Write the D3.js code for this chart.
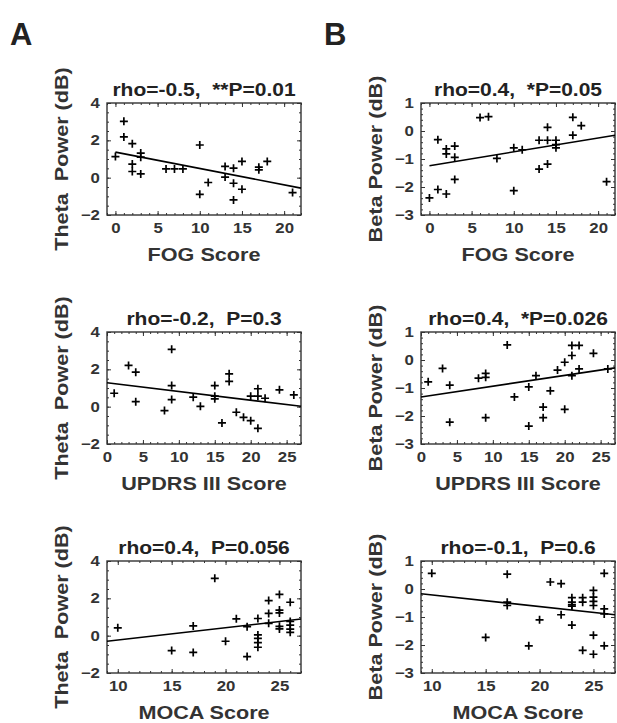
<!DOCTYPE html>
<html>
<head>
<meta charset="utf-8">
<script src="https://cdn.jsdelivr.net/npm/d3@7/dist/d3.min.js"></script>
<style>
  body { margin: 0; background: #fff; }
  svg text { font-family: "Liberation Sans", Arial, sans-serif; font-weight: bold; fill: #333; }
</style>
</head>
<body>
<svg id="chart" width="617" height="723"></svg>
<script>
// ---- data ----
// A: theta power, B: beta power; rows: FOG, UPDRS III, MOCA
const fogThetaX = [0, 1, 1, 2, 3, 3, 2, 2, 3, 6, 7, 8, 10, 10, 11, 13, 13, 14, 14, 14, 15, 15, 17, 17, 18, 21];
const fogThetaY = [1.13, 3.02, 2.18, 1.82, 1.32, 1.1, 0.73, 0.33, 0.2, 0.47, 0.47, 0.47, 1.75, -0.89, -0.26, 0.6, 0.03, 0.51, -0.3, -1.19, 0.87, -0.62, 0.56, 0.42, 0.87, -0.8];
const fogThetaFit = [[0, 1.37], [22, -0.56]];

const fogBetaX = [0, 1, 1, 2, 2, 2, 3, 3, 3, 6, 7, 8, 10, 10, 11, 13, 13, 14, 14, 14, 15, 15, 15, 17, 17, 18, 21];
const fogBetaY = [-2.39, -0.31, -2.09, -0.64, -0.82, -2.25, -0.54, -0.94, -1.73, 0.48, 0.51, -0.98, -0.6, -2.13, -0.67, -0.33, -1.36, 0.13, -0.33, -1.18, -0.33, -0.49, -0.6, 0.49, -0.15, 0.19, -1.81];
const fogBetaFit = [[0, -1.24], [22, -0.15]];

const updrsThetaX = [1, 3, 4, 4, 8, 9, 9, 9, 12, 13, 15, 15, 15, 16, 17, 17, 18, 19, 20, 20, 21, 21, 21, 22, 24, 26];
const updrsThetaY = [0.72, 2.21, 1.85, 0.27, -0.21, 3.07, 1.13, 0.38, 0.51, 0.02, 1.13, 0.56, 0.42, -0.87, 1.76, 1.35, -0.3, -0.57, -0.75, 0.56, 0.96, 0.56, -1.16, 0.45, 0.9, 0.63];
const updrsThetaFit = [[0, 1.28], [27, 0.02]];

const updrsBetaX = [1, 3, 4, 4, 8, 9, 9, 9, 12, 13, 15, 15, 16, 17, 17, 18, 19, 20, 20, 21, 21, 21, 22, 22, 24, 26];
const updrsBetaY = [-0.78, -0.3, -0.9, -2.22, -0.65, -0.48, -0.62, -2.06, 0.54, -1.32, -0.96, -2.36, -0.56, -1.68, -2.06, -1.1, -0.36, -0.08, -1.76, 0.52, 0.16, -0.56, 0.52, -0.32, 0.24, -0.32];
const updrsBetaFit = [[0, -1.32], [27, -0.28]];

const mocaThetaX = [10, 15, 17, 17, 19, 20, 21, 22, 22, 23, 23, 23, 23, 23, 24, 24, 24, 25, 25, 25, 25, 25, 26, 26, 26, 26, 26];
const mocaThetaY = [0.42, -0.8, 0.52, -0.9, 3.07, -0.3, 0.9, 0.48, -1.12, 0.92, 0.04, -0.15, -0.37, -0.62, 1.88, 1.19, 0.66, 2.21, 1.37, 1.22, 0.5, 0.36, 1.79, 0.76, 0.56, 0.35, 0.18];
const mocaThetaFit = [[9, -0.3], [27, 0.89]];

const mocaBetaX = [10, 15, 17, 17, 17, 19, 20, 21, 22, 22, 23, 23, 23, 23, 23, 24, 24, 24, 25, 25, 25, 25, 25, 25, 26, 26, 26, 26];
const mocaBetaY = [0.56, -1.73, 0.53, -0.47, -0.59, -2.03, -1.1, 0.25, 0.19, -0.92, -0.31, -0.47, -0.56, -0.61, -1.29, -0.31, -0.47, -2.19, -0.05, -0.29, -0.44, -0.59, -1.65, -2.33, 0.56, -0.71, -0.89, -2.03];
const mocaBetaFit = [[9, -0.17], [27, -0.92]];

const titles = ['rho=-0.5,  **P=0.01', 'rho=0.4,  *P=0.05',
                'rho=-0.2,  P=0.3', 'rho=0.4,  *P=0.026',
                'rho=0.4,  P=0.056', 'rho=-0.1,  P=0.6'];
const xLabels = ['FOG Score', 'UPDRS III Score', 'MOCA Score'];
const yLabels = ['Theta  Power (dB)', 'Beta Power (dB)'];
const xDomains = [[-1, 22], [0, 27], [9, 27]];
const xTickValues = [[0, 5, 10, 15, 20], [0, 5, 10, 15, 20, 25], [10, 15, 20, 25]];
const yDomains = [[-2, 4], [-3, 1]];
const yTickValues = [[-2, 0, 2, 4], [-3, -2, -1, 0, 1]];
const yMinorStep = [0.5, 0.2];
const panelLetters = ['A', 'B'];

const series = [
  [fogThetaX, fogThetaY, fogThetaFit], [fogBetaX, fogBetaY, fogBetaFit],
  [updrsThetaX, updrsThetaY, updrsThetaFit], [updrsBetaX, updrsBetaY, updrsBetaFit],
  [mocaThetaX, mocaThetaY, mocaThetaFit], [mocaBetaX, mocaBetaY, mocaBetaFit]
];

// ---- layout ----
const colLeft = [107, 421];
const rowTop = [103, 332, 561];
const boxW = 194, boxH = 112;
const ink = '#333';
const stretch = 1.2;   // the figure's lettering is wider than plain Arial

const svg = d3.select('#chart');

panelLetters.forEach((l, c) => {
  svg.append('text').attr('x', colLeft[c] - 97).attr('y', 45)
    .style('font-size', '31px').style('fill', '#222').text(l);
});

const plus = 'M-4,0H4M0,-4V4';

series.forEach((s, i) => {
  const row = Math.floor(i / 2), col = i % 2;
  const [xs, ys, fit] = s;

  const x = d3.scaleLinear().domain(xDomains[row]).range([0, boxW]);
  const y = d3.scaleLinear().domain(yDomains[col]).range([boxH, 0]);

  const g = svg.append('g').attr('transform', `translate(${colLeft[col]},${rowTop[row]})`);

  const xMinor = d3.range(Math.ceil(xDomains[row][0]), xDomains[row][1] + 0.001, 1);
  const yMinor = d3.range(yDomains[col][0], yDomains[col][1] + 0.001, yMinorStep[col]);

  // minor ticks, all four sides, pointing inwards
  const minor = [
    [d3.axisBottom(x).tickValues(xMinor), `translate(0,${boxH})`],
    [d3.axisTop(x).tickValues(xMinor), null],
    [d3.axisLeft(y).tickValues(yMinor), null],
    [d3.axisRight(y).tickValues(yMinor), `translate(${boxW},0)`]
  ];
  minor.forEach(([ax, tr]) => {
    const a = g.append('g').attr('transform', tr)
      .call(ax.tickSize(-2).tickSizeOuter(0).tickFormat(''));
    a.select('.domain').remove();
    a.selectAll('line').attr('stroke', ink);
  });

  // major ticks
  const xAxis = g.append('g').attr('transform', `translate(0,${boxH})`)
    .call(d3.axisBottom(x).tickValues(xTickValues[row]).tickFormat(d3.format('d'))
      .tickSize(-4).tickSizeOuter(0).tickPadding(8));
  const yAxis = g.append('g')
    .call(d3.axisLeft(y).tickValues(yTickValues[col]).tickFormat(d3.format('d'))
      .tickSize(-4).tickSizeOuter(0).tickPadding(6));
  g.append('g').call(d3.axisTop(x).tickValues(xTickValues[row]).tickSize(-4).tickSizeOuter(0).tickFormat(''));
  g.append('g').attr('transform', `translate(${boxW},0)`)
    .call(d3.axisRight(y).tickValues(yTickValues[col]).tickSize(-4).tickSizeOuter(0).tickFormat(''));

  g.selectAll('.domain').remove();
  g.selectAll('.tick line').attr('stroke', ink);
  [xAxis, yAxis].forEach(a => a.selectAll('text')
    .attr('fill', null).style('font-size', '14px').style('font-family', null)
    .attr('transform', `scale(${stretch},1)`));

  g.append('rect').attr('width', boxW).attr('height', boxH)
    .attr('fill', 'none').attr('stroke', ink).attr('stroke-width', 1.4);

  // regression line
  g.append('path').datum(fit)
    .attr('d', d3.line().x(d => x(d[0])).y(d => y(d[1])))
    .attr('fill', 'none').attr('stroke', '#000').attr('stroke-width', 1.6);

  // data points
  g.selectAll('.pt').data(xs.map((v, k) => [v, ys[k]])).enter()
    .append('path').attr('class', 'pt')
    .attr('transform', d => `translate(${x(d[0])},${y(d[1])})`)
    .attr('d', plus).attr('stroke', '#000').attr('stroke-width', 1.7).attr('fill', 'none');

  // title and labels
  g.append('text').attr('transform', `translate(${boxW / 2},-7) scale(${stretch},1)`)
    .attr('text-anchor', 'middle')
    .style('font-size', '17.5px').style('white-space', 'pre').style('fill', '#222').text(titles[i]);
  g.append('text').attr('transform', `translate(${boxW / 2},${boxH + 46}) scale(${stretch},1)`)
    .attr('text-anchor', 'middle')
    .style('font-size', '18px').text(xLabels[row]);
  g.append('text').attr('transform', `translate(-39,${boxH / 2}) rotate(-90) scale(${stretch},1)`)
    .attr('text-anchor', 'middle').style('font-size', '18px').style('white-space', 'pre')
    .text(yLabels[col]);
});
</script>
</body>
</html>
